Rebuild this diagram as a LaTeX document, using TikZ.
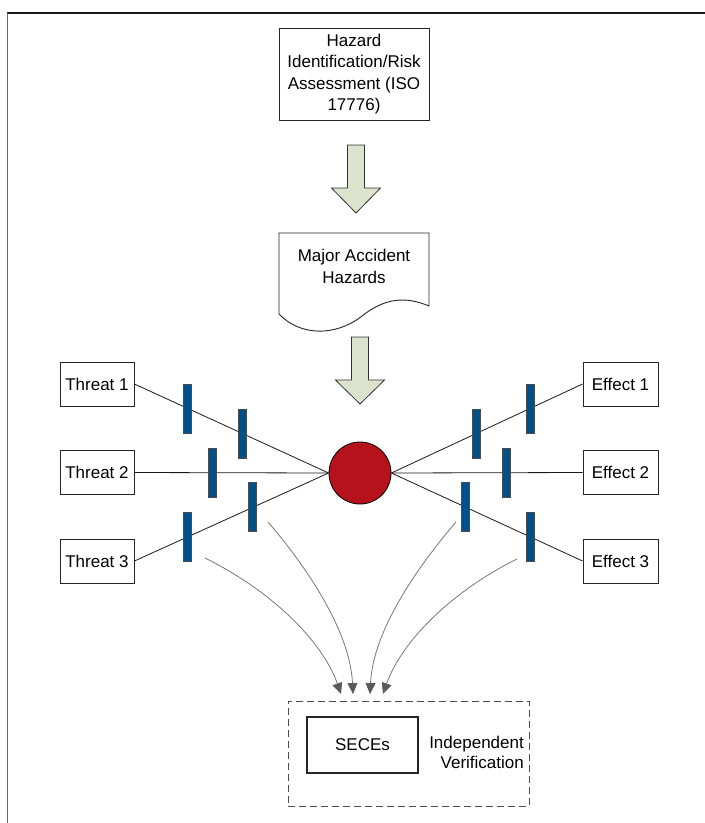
\documentclass[tikz,border=0pt]{standalone}
\usepackage{fontspec}
\setmainfont{Liberation Sans}
\usetikzlibrary{arrows.meta}
\definecolor{arrowfill}{HTML}{DDE2CC}
\definecolor{barblue}{HTML}{00508C}
\definecolor{discred}{HTML}{B5121B}
\definecolor{curvegray}{HTML}{777777}
\definecolor{tipgray}{HTML}{5A5A5A}
\begin{document}
\begin{tikzpicture}[x=1pt,y=-1pt,
  txt/.style={font=\fontsize{17pt}{21.5pt}\selectfont, align=center, inner sep=0pt},
  box/.style={txt, draw=black!85, line width=0.9pt, fill=white},
  barrier/.style={draw=black!70, line width=0.6pt, fill=barblue, minimum width=8pt, minimum height=49pt, inner sep=0pt},
  link/.style={draw=black!90, line width=0.8pt},
  feed/.style={draw=curvegray, line width=0.8pt, -{Triangle[length=11pt,width=10pt,color=tipgray]}},
  blockarrow/.style={draw=black!80, line width=0.8pt, fill=arrowfill, line join=miter},
]
\useasboundingbox (0,0) rectangle (705,823);
% frame lines
\draw[black!90, line width=2pt] (7,13) -- (705,13);
\draw[black!60, line width=1.5pt] (7.5,13) -- (7.5,823);

% top box
\node[box, minimum width=150pt, minimum height=92pt] (hira) at (354,74)
  {Hazard\\Identification/Risk\\Assessment (ISO\\17776)};

% block arrow 1
\draw[blockarrow] (347.5,145) -- (364.5,145) -- (364.5,188) -- (380.5,188) -- (356,213) -- (331.5,188) -- (347.5,188) -- cycle;

% document shape
\draw[draw=black!85, line width=0.9pt, fill=white] (279,233) -- (429,233) -- (429,306)
  .. controls (405,296) and (385,298) .. (362,316)
  .. controls (335,337) and (300,336) .. (279,314) -- cycle;
\node[txt] (mah) at (354,266.5) {Major Accident\\Hazards};

% block arrow 2
\draw[blockarrow] (351.5,337) -- (368.5,337) -- (368.5,380) -- (384.5,380) -- (360,404) -- (335.5,380) -- (351.5,380) -- cycle;

% threats and effects
\node[box, minimum width=74pt, minimum height=44pt] (t1) at (97,384) {Threat 1};
\node[box, minimum width=74pt, minimum height=44pt] (t2) at (97,472.5) {Threat 2};
\node[box, minimum width=74pt, minimum height=44pt] (t3) at (97,561) {Threat 3};
\node[box, minimum width=75pt, minimum height=44pt] (e1) at (620.5,384) {Effect 1};
\node[box, minimum width=75pt, minimum height=44pt] (e2) at (620.5,472.5) {Effect 2};
\node[box, minimum width=75pt, minimum height=44pt] (e3) at (620.5,561) {Effect 3};

% top event
\node[circle, draw=black, line width=0.8pt, fill=discred, minimum size=62pt, inner sep=0pt] (top) at (360,473) {};

\draw[link] (t1.east) -- (top.west);
\draw[link] (t2.east) -- (top.west);
\draw[link] (t3.east) -- (top.west);
\draw[link] (top.east) -- (e1.west);
\draw[link] (top.east) -- (e2.west);
\draw[link] (top.east) -- (e3.west);

% barriers
\node[barrier] (b1) at (187,408.5) {};
\node[barrier] (b2) at (242,433.5) {};
\node[barrier] (b3) at (212,472.5) {};
\node[barrier] (b4) at (252,507) {};
\node[barrier] (b5) at (187,537) {};
\node[barrier] (b6) at (476,433.5) {};
\node[barrier] (b7) at (530,408.5) {};
\node[barrier] (b8) at (506,472.5) {};
\node[barrier] (b9) at (465,507) {};
\node[barrier] (b10) at (530,537) {};

% verification
\node[draw=black!70, dashed, dash pattern=on 7pt off 4pt, line width=0.9pt, minimum width=241pt, minimum height=105pt, inner sep=0pt] (iv) at (408.5,753.5) {};
\node[box, line width=1.2pt, minimum width=111pt, minimum height=56pt] (sec) at (362.5,745) {SECEs};
\node[txt, align=right, anchor=east, font=\fontsize{17pt}{20pt}\selectfont] (ivl) at (524,752) {Independent\\Verification};

% curved feeds
\coordinate (fa) at (205,558);
\coordinate (fb) at (268,522);
\coordinate (fc) at (456,522);
\coordinate (fd) at (517,559);
\coordinate (ta) at (341,694);
\coordinate (tb) at (353,694);
\coordinate (tc) at (370,694);
\coordinate (td) at (383,694);
\draw[feed] (fa) .. controls (270,590) and (322,640) .. (ta);
\draw[feed] (fb) .. controls (305,565) and (350,630) .. (tb);
\draw[feed] (fc) .. controls (419,565) and (373,630) .. (tc);
\draw[feed] (fd) .. controls (454,590) and (402,640) .. (td);
\end{tikzpicture}
\end{document}
